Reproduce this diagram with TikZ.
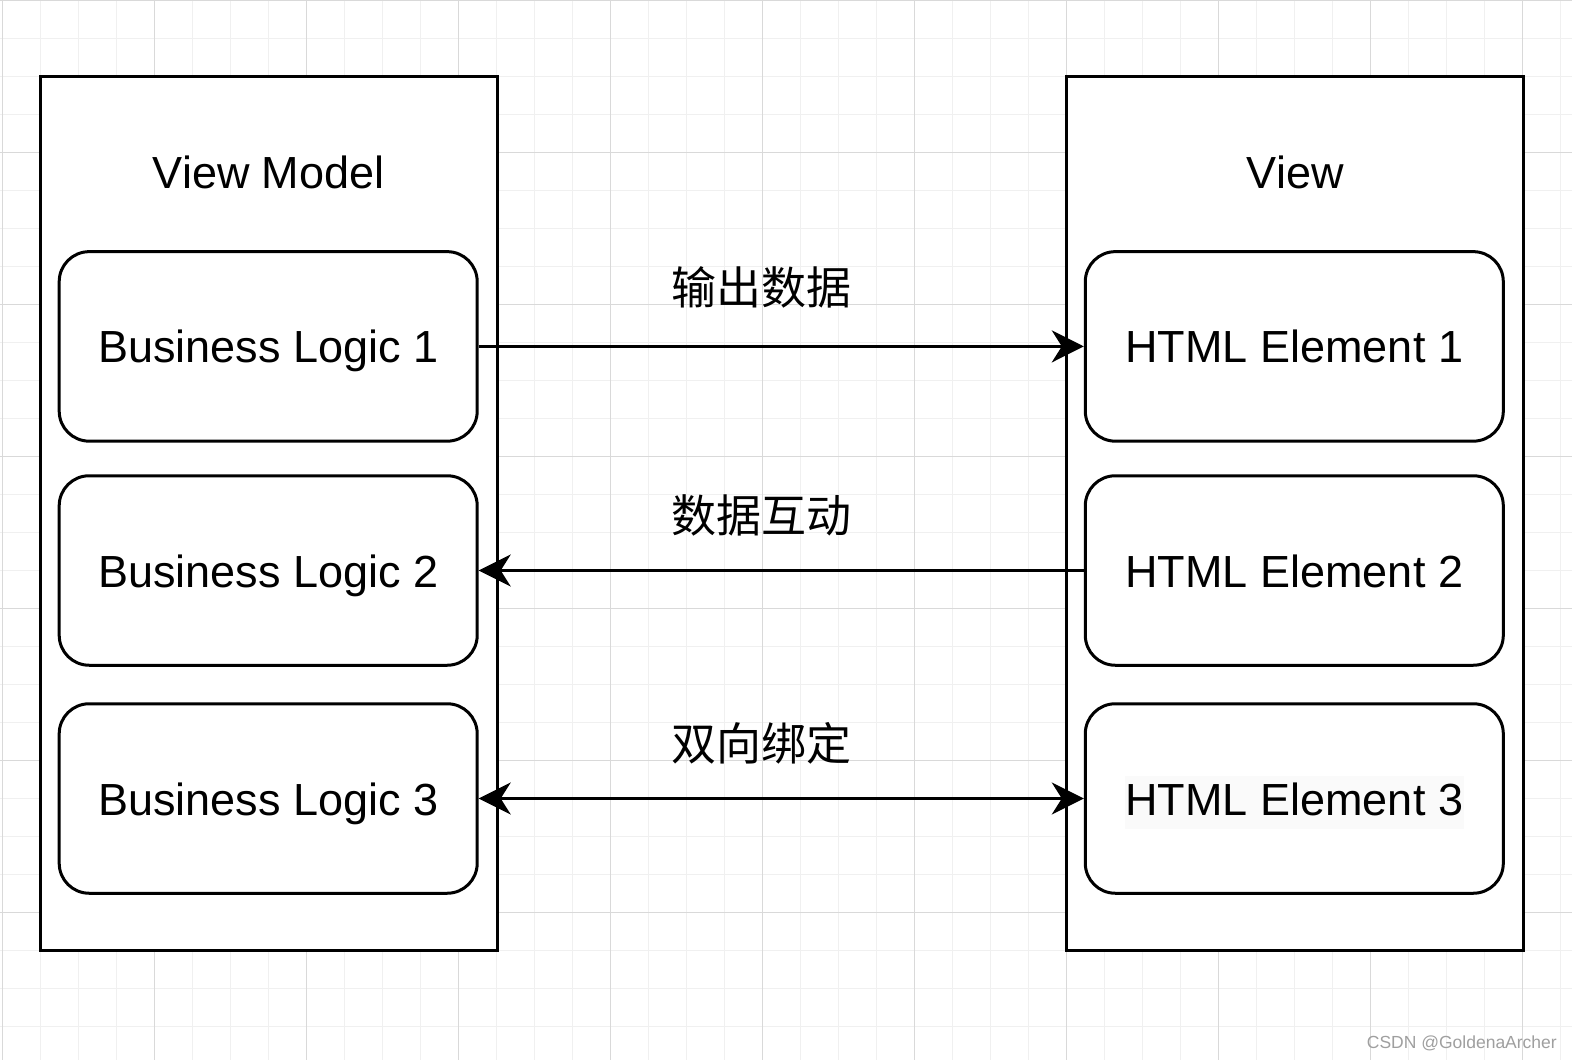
\documentclass[tikz,border=0pt]{standalone}
\usepackage{fontspec}
\setmainfont{Liberation Sans}
\newfontfamily\cjk{Noto Sans CJK SC}
\usetikzlibrary{arrows.meta}
\definecolor{gridminor}{HTML}{F0F0F0}
\definecolor{gridmajor}{HTML}{D9D9D9}
\definecolor{hl}{HTML}{FAFAFA}
\begin{document}
\begin{tikzpicture}[x=1pt,y=-1pt,
  outer/.style={draw, line width=3pt, minimum width=457pt, minimum height=874pt, inner sep=0pt},
  item/.style={draw, line width=3pt, rounded corners=30pt, minimum width=418pt, minimum height=189.5pt,
    inner sep=0pt, text height=33pt, text depth=0pt, font=\fontsize{45}{54}\selectfont},
  title/.style={font=\fontsize{45}{54}\selectfont},
  lbl/.style={font=\cjk\fontsize{45}{54}\selectfont},
  arrtip/.tip={Stealth[length=32pt,width=32pt,inset=10pt]},
  conn/.style={line width=3pt},
]
\useasboundingbox (0,0) rectangle (1572,1060);
\fill[white] (0,0) rectangle (1572,1060);
% grid
\foreach \k in {0,...,41} {
  \draw[gridminor, line width=1pt] ({2+38*\k},0) -- ({2+38*\k},1060);
}
\foreach \k in {0,...,28} {
  \draw[gridminor, line width=1pt] (0,{38*\k}) -- (1572,{38*\k});
}
\foreach \k in {0,...,10} {
  \draw[gridmajor, line width=1pt] ({2+152*\k},0) -- ({2+152*\k},1060);
}
\foreach \k in {0,...,6} {
  \draw[gridmajor, line width=1pt] (0,{152*\k}) -- (1572,{152*\k});
}
% containers
\node[outer, fill=white] (vm) at (268.7,513.3) {};
\node[outer, fill=white] (v) at (1295.3,513.3) {};
\node[title] (vmt) at (268.7,172.4) {View Model};
\node[title] (vt) at (1295.3,172.4) {View};
% items
\node[item] (bl1) at (268.2,346.4) {Business Logic 1};
\node[item] (bl2) at (268.2,570.5) {Business Logic 2};
\node[item] (bl3) at (268.2,798.5) {Business Logic 3};
\node[item] (he1) at (1294.3,346.4) {HTML Element 1};
\node[item] (he2) at (1294.3,570.5) {HTML Element 2};
\node[item] (he3) at (1294.3,798.5) {};
\node[fill=hl, inner xsep=1pt, inner ysep=0pt, text height=39pt, text depth=14pt,
  font=\fontsize{45}{54}\selectfont, anchor=base] (he3t) at (1294.3,815) {HTML Element 3};
% connectors
\draw[conn, -arrtip] (bl1.east) -- (he1.west);
\draw[conn, -arrtip] (he2.west) -- (bl2.east);
\draw[conn, arrtip-arrtip] (bl3.east) -- (he3.west);
% labels
\node[lbl] (l1) at (761.9,287.7) {输出数据};
\node[lbl] (l2) at (761.9,515.3) {数据互动};
\node[lbl] (l3) at (761.9,742.9) {双向绑定};
% watermark
\node[font=\fontsize{17.5}{20}\selectfont, text=gray!75, anchor=east, inner sep=0pt] (wm) at (1557,1043) {CSDN @GoldenaArcher};
\end{tikzpicture}
\end{document}
